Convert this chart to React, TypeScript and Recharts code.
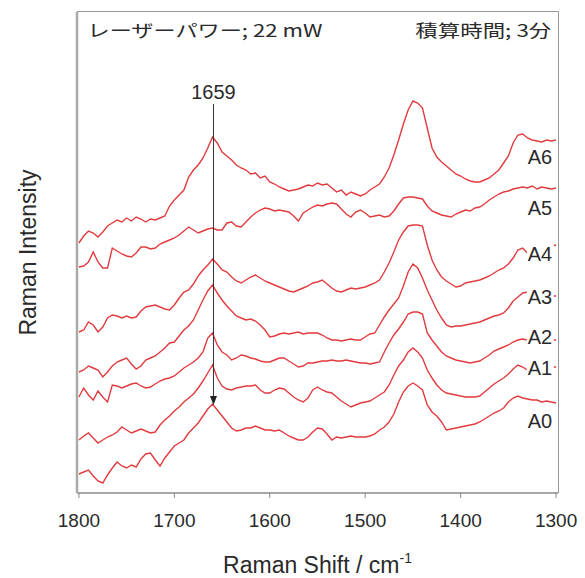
import React from "react";
import { LineChart, Line, XAxis, YAxis, ReferenceLine, ReferenceDot, Label } from "recharts";

// Raman shift grid (cm-1), one sample every 5 cm-1 from 1800 down to 1300
const ramanShift = Array.from({ length: 101 }, (_, i) => 1800 - i * 5);
const shiftTicks = [1800, 1700, 1600, 1500, 1400, 1300];
const shiftDomain = [1298, 1802];
const intensityDomain = [0, 481];

// intensities (arbitrary units, curves already offset as in the figure)
const A0 = [
  19, 21, 23, 17, 12, 10, 18, 25, 31, 27,
  25, 28, 26, 34, 39, 40, 33, 27, 35, 41,
  47, 50, 53, 60, 65, 70, 77, 84, 89, 83,
  77, 71, 65, 62, 63, 65, 65, 67, 65, 63,
  63, 62, 63, 60, 57, 55, 53, 53, 56, 61,
  65, 64, 59, 53, 56, 55, 56, 57, 56, 56,
  56, 57, 59, 63, 66, 71, 79, 91, 101, 107,
  110, 107, 103, 88, 81, 77, 71, 63, 64, 65,
  66, 67, 68, 69, 71, 74, 77, 80, 82, 85,
  91, 95, 97, 95, 94, 93, 93, 91, 92, 91,
  90,
];
const A1 = [
  53, 57, 60, 55, 50, 53, 56, 58, 61, 66,
  63, 60, 62, 64, 62, 60, 61, 68, 73, 77,
  82, 86, 91, 95, 99, 105, 112, 120, 128, 115,
  107, 104, 103, 105, 106, 107, 107, 108, 103, 100,
  100, 103, 105, 104, 100, 96, 93, 91, 95, 103,
  106, 103, 101, 100, 96, 92, 89, 86, 88, 90,
  91, 92, 95, 98, 101, 108, 118, 127, 133, 141,
  145, 141, 135, 123, 115, 108, 103, 100, 99, 98,
  97, 96, 96, 96, 97, 101, 105, 109, 112, 115,
  119, 124, 128, 126, 123, 123, 124, 125, 125, 126,
  126,
];
const A2 = [
  96, 105, 98, 93, 102, 96, 91, 108, 107, 105,
  107, 109, 110, 107, 105, 106, 109, 112, 114, 115,
  117, 121, 125, 128, 131, 135, 141, 155, 160, 148,
  141, 138, 133, 135, 138, 137, 135, 134, 132, 131,
  131, 133, 135, 135, 132, 129, 126, 127, 130, 130,
  131, 132, 132, 133, 132, 132, 133, 132, 131, 130,
  130, 129, 130, 131, 141, 150, 158, 164, 171, 179,
  181, 181, 179, 160, 153, 147, 141, 137, 135, 133,
  132, 131, 130, 131, 132, 135, 138, 142, 144, 146,
  148, 151, 153, 154, 153, 152, 153, 152, 153, 153,
  153,
];
const A3 = [
  121, 123, 127, 125, 123, 116, 121, 127, 131, 133,
  135, 129, 124, 127, 133, 135, 137, 141, 145, 150,
  151, 157, 163, 167, 173, 183, 193, 202, 208, 200,
  193, 187, 182, 177, 175, 173, 174, 172, 168, 163,
  156, 157, 159, 160, 159, 160, 161, 159, 160, 160,
  160, 158, 155, 153, 153, 152, 153, 154, 153, 153,
  156, 159, 160, 168, 176, 183, 189, 195, 207, 221,
  229, 225, 215, 203, 193, 183, 175, 168, 166, 167,
  167, 168, 169, 170, 171, 173, 175, 177, 178, 180,
  185, 192, 196, 200, 201, 199, 198, 197, 196, 197,
  197,
];
const A4 = [
  161, 163, 171, 168, 161, 166, 175, 178, 177, 175,
  177, 175, 176, 182, 186, 187, 188, 186, 184, 183,
  188, 195, 201, 203, 209, 217, 223, 228, 234, 229,
  223, 221, 216, 212, 210, 213, 216, 218, 215, 212,
  210, 208, 206, 204, 202, 201, 203, 205, 207, 210,
  211, 213, 209, 205, 202, 201, 203, 205, 204, 205,
  206, 208, 210, 213, 221, 230, 241, 253, 261, 267,
  268, 268, 267, 248, 233, 223, 216, 212, 209, 206,
  207, 210, 211, 212, 213, 215, 217, 220, 223, 225,
  229, 235, 243, 245, 240, 243, 243, 245, 246, 247,
  248,
];
const A5 = [
  226, 227, 231, 241, 231, 225, 225, 245, 242, 239,
  237, 236, 240, 246, 246, 244, 245, 249, 251, 253,
  255, 258, 262, 266, 263, 260, 262, 264, 265, 263,
  263, 270, 271, 267, 266, 271, 276, 280, 283, 285,
  284, 282, 283, 282, 281, 277, 272, 280, 283, 286,
  288, 287, 289, 290, 289, 284, 279, 276, 281, 283,
  280, 276, 277, 278, 276, 277, 282, 289, 295, 296,
  296, 295, 294, 287, 282, 280, 278, 277, 276, 279,
  281, 283, 282, 285, 286, 289, 293, 296, 299, 301,
  302, 304, 305, 306, 305, 307, 304, 306, 305, 304,
  305,
];
const A6 = [
  250, 257, 262, 260, 256, 261, 267, 270, 273, 271,
  275, 272, 276, 274, 271, 274, 273, 275, 277, 287,
  293, 298, 303, 316, 323, 328, 335, 345, 356, 350,
  341, 337, 333, 328, 325, 323, 319, 320, 315, 317,
  311, 309, 306, 304, 302, 303, 304, 306, 308, 307,
  310, 308, 309, 305, 301, 303, 298, 301, 299, 297,
  299, 303, 306, 309, 316, 325, 338, 353, 369, 383,
  392, 390, 385, 365, 345, 336, 331, 327, 323, 319,
  317, 314, 312, 311, 311, 313, 315, 319, 323, 330,
  337, 350, 358, 359, 355, 353, 352, 351, 353, 352,
  353,
];

const sampleNames = ["A0", "A1", "A2", "A3", "A4", "A5", "A6"];
const sampleSpectra = [A0, A1, A2, A3, A4, A5, A6];
// where each sample name tag sits on the intensity scale
const tagLevel = [72, 125, 156, 196, 239, 285, 336];
const tagShift = 1317;

const peakShift = 1659;
const peakArrow = [88, 389]; // arrow tip, top of line

const rows = ramanShift.map((shift, i) => {
  const row: Record<string, number> = { shift };
  sampleNames.forEach((name, k) => {
    row[name] = sampleSpectra[k][i];
  });
  return row;
});

const W = 585;
const H = 578;
const margin = { top: 12, right: 27, bottom: 0, left: 0 };
const yAxisWidth = 77;
const xAxisHeight = 85;

const LATIN = "'Liberation Sans', Arial, sans-serif";
const JP = "'Noto Sans CJK JP', 'Noto Sans', sans-serif";
const TEXT = "#2a2a2a";
const RED = "#e23a3e";

const PeakMarker = (p: any) => {
  const x = p.x1;
  const top = Math.min(p.y1, p.y2);
  const bottom = Math.max(p.y1, p.y2);
  return (
    <g>
      <line x1={x} y1={top} x2={x} y2={bottom - 5} stroke="#333" strokeWidth={1} />
      <path d={`M${x - 3.5},${bottom - 9} L${x + 3.5},${bottom - 9} L${x},${bottom} Z`} fill="#222" />
      <text x={x} y={top - 5} textAnchor="middle" fontSize={20} fontFamily={LATIN} fill={TEXT}>
        {peakShift}
      </text>
    </g>
  );
};

const SampleTag = (name: string) => (p: any) => (
  <g>
    <rect x={p.cx - 13} y={p.cy - 10} width={27} height={20} fill="#fff" />
    <text x={p.cx} y={p.cy + 7} textAnchor="middle" fontSize={20} fontFamily={LATIN} fill={TEXT}>
      {name}
    </text>
  </g>
);

const CornerNote = (label: string, anchor: "start" | "end", len: number) => (p: any) => (
  <text
    x={p.cx}
    y={p.cy}
    textAnchor={anchor}
    fontSize={17}
    fontFamily={JP}
    fill={TEXT}
    textLength={len}
    lengthAdjust="spacingAndGlyphs"
  >
    {label}
  </text>
);

const ShiftTitle = (p: any) => {
  const vb = p.viewBox;
  return (
    <text x={vb.x + vb.width / 2} y={573} textAnchor="middle" fontSize={23} fontFamily={LATIN} fill={TEXT}>
      <tspan>Raman Shift / cm</tspan>
      <tspan dy={-10} fontSize={14}>-1</tspan>
    </text>
  );
};

const IntensityTitle = (p: any) => {
  const vb = p.viewBox;
  const cy = vb.y + vb.height / 2;
  return (
    <text
      transform={`rotate(-90, 36, ${cy})`}
      x={36}
      y={cy}
      textAnchor="middle"
      fontSize={23}
      fontFamily={LATIN}
      fill={TEXT}
    >
      Raman Intensity
    </text>
  );
};

export default function App() {
  const plotW = W - margin.right - yAxisWidth;
  const plotH = H - margin.top - xAxisHeight;
  return (
    <div style={{ position: "absolute", left: 0, top: 0, width: W, height: H, background: "#fff" }}>
      <LineChart width={W} height={H} data={rows} margin={margin}>
        <XAxis
          dataKey="shift"
          type="number"
          domain={shiftDomain}
          reversed
          allowDataOverflow
          ticks={shiftTicks}
          height={xAxisHeight}
          tickSize={5}
          tickMargin={16}
          axisLine={{ stroke: "#888", strokeWidth: 1.5 }}
          tickLine={{ stroke: "#888" }}
          tick={{ fill: TEXT, fontSize: 19, fontFamily: LATIN }}
        >
          <Label content={ShiftTitle} />
        </XAxis>
        <YAxis
          type="number"
          domain={intensityDomain}
          allowDataOverflow
          width={yAxisWidth}
          tick={false}
          tickLine={false}
          axisLine={{ stroke: "#aaa", strokeWidth: 2.5 }}
        >
          <Label content={IntensityTitle} />
        </YAxis>

        {sampleNames.map((name) => (
          <Line
            key={name}
            dataKey={name}
            type="linear"
            stroke={RED}
            strokeWidth={1.4}
            dot={false}
            isAnimationActive={false}
          />
        ))}

        {sampleNames.map((name, k) => (
          <ReferenceDot key={"tag" + name} x={tagShift} y={tagLevel[k]} r={0} shape={SampleTag(name)} />
        ))}

        <ReferenceLine
          segment={[
            { x: peakShift, y: peakArrow[0] },
            { x: peakShift, y: peakArrow[1] },
          ]}
          shape={PeakMarker}
        />

        <ReferenceDot x={1791} y={456} r={0} shape={CornerNote("レーザーパワー; 22 mW", "start", 235)} />
        <ReferenceDot x={1305} y={456} r={0} shape={CornerNote("積算時間; 3分", "end", 136)} />
      </LineChart>
      {/* top and right edges of the plot frame */}
      <div
        style={{
          position: "absolute",
          left: yAxisWidth,
          top: margin.top - 1,
          width: plotW + 1,
          height: plotH + 1,
          boxSizing: "border-box",
          borderTop: "1.5px solid #999",
          borderRight: "1.5px solid #999",
          pointerEvents: "none",
        }}
      />
    </div>
  );
}
